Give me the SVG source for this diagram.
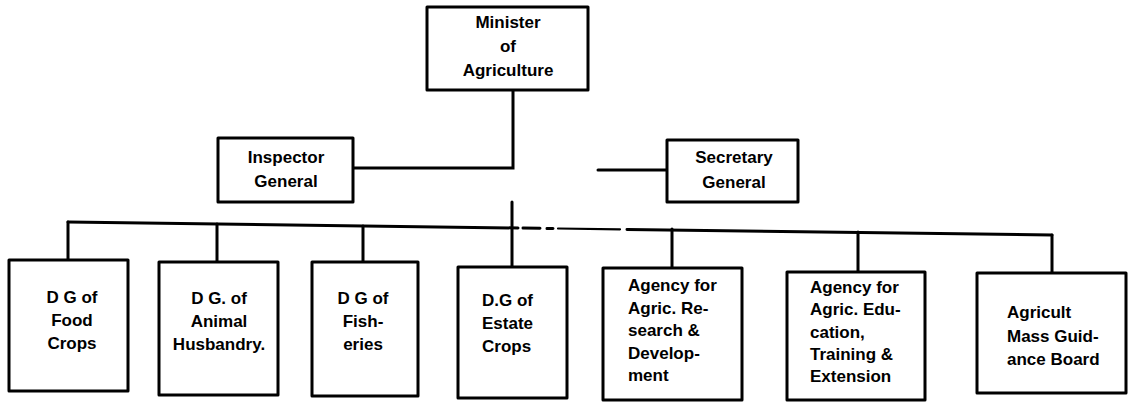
<svg xmlns="http://www.w3.org/2000/svg" width="1129" height="407" viewBox="0 0 1129 407">
<style>
.box{fill:#fff;stroke:#000;stroke-width:3;stroke-linejoin:round}
.ln{fill:none;stroke:#000;stroke-width:3;stroke-linecap:round}
text{font-family:"Liberation Sans","DejaVu Sans",sans-serif;font-weight:bold;font-size:17px;fill:#000}
.c{text-anchor:middle}
</style>
<rect width="1129" height="407" fill="#fff"/>
<g id="connectors">
<path class="ln" d="M513,90 V168 H353"/>
<path class="ln" d="M598,170 H667"/>
<path class="ln" d="M68,222 L518,228"/>
<path class="ln" d="M523,228 L540,228.2 M547,228.4 L553,228.5"/>
<path class="ln" style="stroke-width:2.2" d="M558,228.5 L620,229.3"/>
<path class="ln" d="M627,229.4 L1052,235"/>
<path class="ln" d="M68,222 V260"/>
<path class="ln" d="M217,224 V262"/>
<path class="ln" d="M363,226 V262"/>
<path class="ln" d="M512,202 V267"/>
<path class="ln" d="M672,229 V268"/>
<path class="ln" d="M858,232 V272"/>
<path class="ln" d="M1052,235 V273"/>
</g>
<g id="minister">
<rect class="box" x="427" y="7" width="161" height="83"/>
<text class="c" x="508" y="28">Minister</text>
<text class="c" x="508" y="52">of</text>
<text class="c" x="508" y="76">Agriculture</text>
</g>
<g id="inspector">
<rect class="box" x="218" y="138" width="135" height="64"/>
<text class="c" x="286" y="163">Inspector</text>
<text class="c" x="286" y="187">General</text>
</g>
<g id="secretary">
<rect class="box" x="667" y="140" width="131" height="62"/>
<text class="c" x="734" y="163">Secretary</text>
<text class="c" x="734" y="188">General</text>
</g>
<g id="food">
<rect class="box" x="9" y="260" width="119" height="131"/>
<text class="c" x="72" y="303">D G of</text>
<text class="c" x="72" y="326">Food</text>
<text class="c" x="72" y="349">Crops</text>
</g>
<g id="animal">
<rect class="box" x="159" y="262" width="119" height="133"/>
<text class="c" x="219" y="304">D G. of</text>
<text class="c" x="219" y="327">Animal</text>
<text class="c" x="219" y="350">Husbandry.</text>
</g>
<g id="fisheries">
<rect class="box" x="312" y="262" width="106" height="134"/>
<text class="c" x="363" y="304">D G of</text>
<text class="c" x="363" y="327">Fish-</text>
<text class="c" x="363" y="350">eries</text>
</g>
<g id="estate">
<rect class="box" x="458" y="267" width="109" height="131"/>
<text x="482" y="306">D.G of</text>
<text x="482" y="329">Estate</text>
<text x="482" y="352">Crops</text>
</g>
<g id="research">
<rect class="box" x="603" y="268" width="139" height="132"/>
<text x="628" y="291">Agency for</text>
<text x="628" y="313.5">Agric. Re-</text>
<text x="628" y="336">search &amp;</text>
<text x="628" y="358.5">Develop-</text>
<text x="628" y="381">ment</text>
</g>
<g id="education">
<rect class="box" x="787" y="272" width="138" height="128"/>
<text x="810" y="293">Agency for</text>
<text x="810" y="315">Agric. Edu-</text>
<text x="810" y="338">cation,</text>
<text x="810" y="360">Training &amp;</text>
<text x="810" y="382">Extension</text>
</g>
<g id="guidance">
<rect class="box" x="977" y="273" width="149" height="120"/>
<text x="1007" y="318">Agricult</text>
<text x="1007" y="342">Mass Guid-</text>
<text x="1007" y="365">ance Board</text>
</g>
</svg>
